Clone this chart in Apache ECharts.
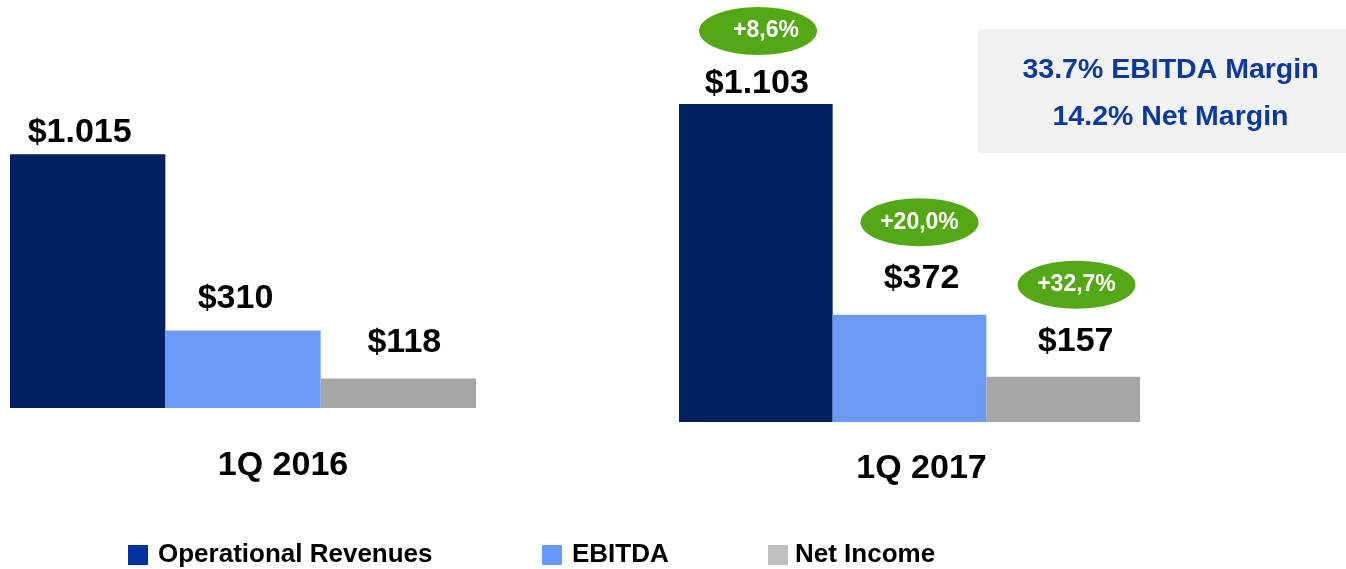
<!DOCTYPE html>
<html>
<head>
<meta charset="utf-8">
<script src="https://cdn.jsdelivr.net/npm/echarts@6/dist/echarts.min.js"></script>
<style>html,body{margin:0;padding:0;background:#fff;}#c{width:1346px;height:569px;}</style>
</head>
<body>
<div id="c"></div>
<script>
const periods = ['1Q 2016', '1Q 2017'];
const seriesNames = ['Operational Revenues', 'EBITDA', 'Net Income'];
const revenues = [1015, 1103];
const ebitda = [310, 372];
const netIncome = [118, 157];
const growth2017 = ['+8,6%', '+20,0%', '+32,7%'];
const marginTexts = ['33.7% EBITDA Margin', '14.2% Net Margin'];

const FONT = '"Liberation Sans", Arial, sans-serif';
const barColors = ['#002060', '#6b99f8', '#a6a6a6'];
const legendColors = ['#0033a0', '#6699ff', '#c0c0c0'];
const values = [revenues, ebitda, netIncome];

// label placement styles [grid][series] : [dx, distance]
const labelStyle = [
  [[-8, 5], [-7.5, 15], [6, 18.5]],
  [[1, 3.5], [12, 19.5], [12.5, 18.5]]
];
const pillOffsets = [[-151.5, -73], [10, -92.5], [167, -92]];
const pillTextOffsets = [[8, 0], [0, 0], [0, 0]];

function fmt(v) {
  if (v >= 1000) return '$' + Math.floor(v / 1000) + '.' + String(v % 1000).padStart(3, '0');
  return '$' + v;
}

const series = [];
for (let g = 0; g < 2; g++) {
  for (let s = 0; s < 3; s++) {
    series.push({
      type: 'bar',
      name: seriesNames[s],
      xAxisIndex: g,
      yAxisIndex: g,
      barGap: '0%',
      barCategoryGap: '0%',
      itemStyle: { color: barColors[s] },
      label: {
        show: true,
        position: 'top',
        distance: labelStyle[g][s][1],
        offset: [labelStyle[g][s][0], 0],
        formatter: (p) => fmt(p.value),
        fontFamily: FONT,
        fontWeight: 'bold',
        fontSize: 34,
        color: '#000'
      },
      data: [values[s][g]]
    });
  }
}

series.push({
  type: 'scatter',
  xAxisIndex: 1,
  yAxisIndex: 1,
  symbol: 'path://M0,1A1,1 0 1,1 2,1A1,1 0 1,1 0,1Z',
  symbolSize: [118, 48],
  symbolKeepAspect: false,
  itemStyle: { color: '#54a816', opacity: 1 },
  z: 5,
  silent: true,
  data: growth2017.map((t, i) => ({
    value: [periods[1], values[i][1]],
    symbolOffset: pillOffsets[i],
    label: {
      show: true,
      position: 'inside',
      offset: pillTextOffsets[i],
      formatter: t,
      color: '#fff',
      fontFamily: FONT,
      fontWeight: 'bold',
      fontSize: 23
    }
  }))
});

const legendPos = [128, 542, 768];

const option = {
  animation: false,
  backgroundColor: '#ffffff',
  grid: [
    { left: 10, width: 466, top: 108, height: 300 },
    { left: 679, width: 461, top: 76, height: 346 }
  ],
  xAxis: [0, 1].map(g => ({
    type: 'category',
    gridIndex: g,
    data: [periods[g]],
    axisLine: { show: false },
    axisTick: { show: false },
    axisLabel: {
      margin: g === 0 ? 41 : 30,
      padding: g === 0 ? [0, 0, 0, 80] : [0, 0, 0, 24],
      fontFamily: FONT,
      fontWeight: 'bold',
      fontSize: 34,
      color: '#000'
    }
  })),
  yAxis: [0, 1].map(g => ({
    type: 'value',
    gridIndex: g,
    min: 0,
    max: 1200,
    show: false,
    splitLine: { show: false }
  })),
  legend: seriesNames.map((n, i) => ({
    left: legendPos[i],
    top: 542,
    padding: 0,
    itemWidth: 20,
    itemHeight: 20,
    icon: 'rect',
    selectedMode: false,
    data: [{ name: n, itemStyle: { color: legendColors[i] } }],
    textStyle: {
      fontFamily: FONT,
      fontWeight: 'bold',
      fontSize: 26,
      color: '#000',
      padding: [0, 0, 0, i === 2 ? 2 : 5]
    }
  })),
  graphic: [
    {
      type: 'rect',
      shape: { x: 978, y: 29, width: 368, height: 124 },
      style: { fill: '#f2f2f2' },
      silent: true
    },
    {
      type: 'text',
      x: 1170.5,
      y: 70,
      style: {
        text: marginTexts[0],
        fill: '#0a3a9e',
        font: 'bold 28.5px ' + FONT,
        textAlign: 'center',
        textVerticalAlign: 'middle'
      }
    },
    {
      type: 'text',
      x: 1170.5,
      y: 117,
      style: {
        text: marginTexts[1],
        fill: '#0a3a9e',
        font: 'bold 28.5px ' + FONT,
        textAlign: 'center',
        textVerticalAlign: 'middle'
      }
    }
  ],
  series: series
};

const chart = echarts.init(document.getElementById('c'), null, { renderer: 'canvas' });
chart.setOption(option);
</script>
</body>
</html>
